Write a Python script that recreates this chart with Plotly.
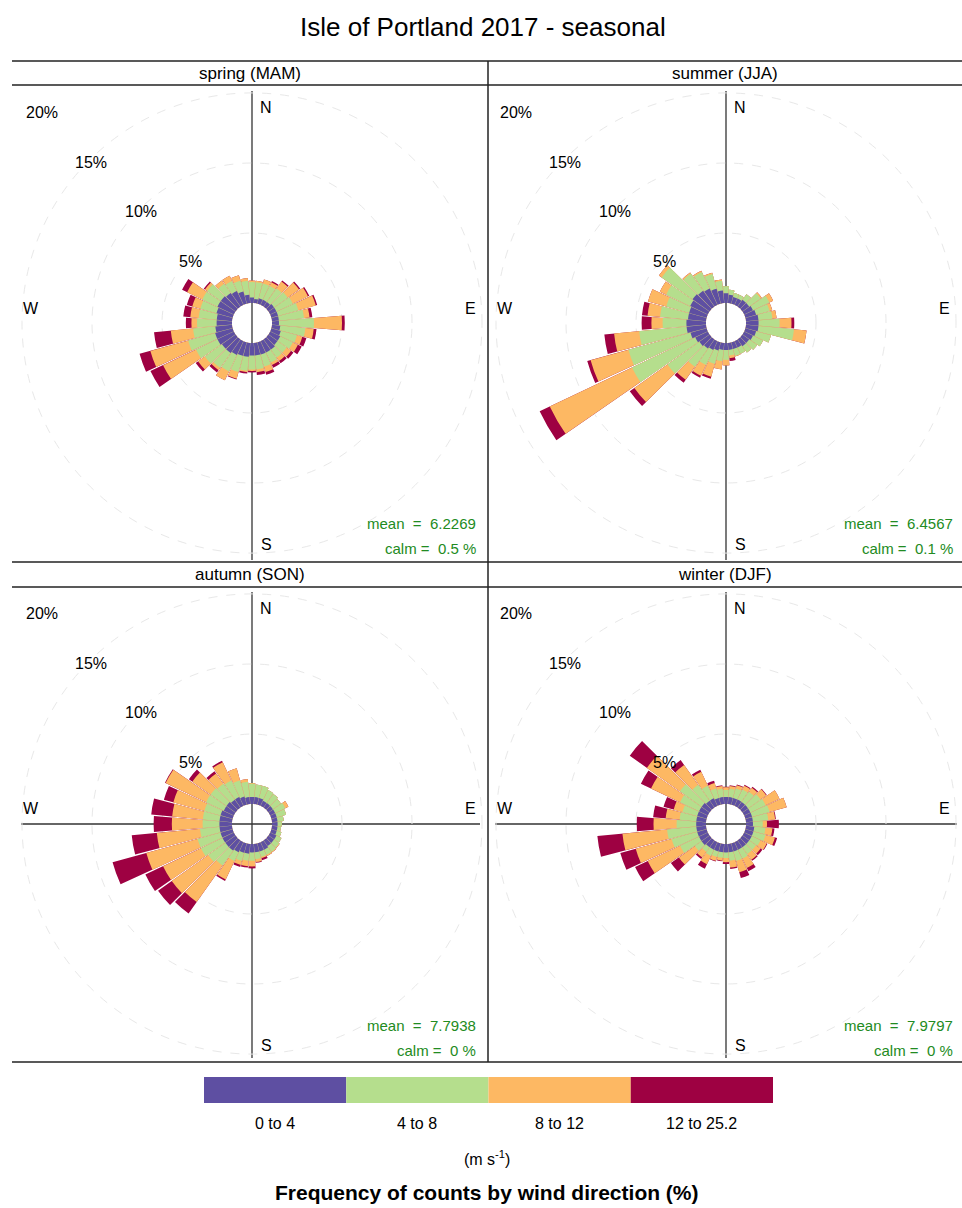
import plotly.graph_objects as go

# ---------------------------------------------------------------------------
# Wind rose data: 36 direction sectors (10 deg) and cumulative frequency (%)
# at the outer edge of each wind-speed band.
# ---------------------------------------------------------------------------
directions = list(range(10, 370, 10))
speed_bins = ["0 to 4", "4 to 8", "8 to 12", "12 to 25.2"]
bin_colors = ["#5E4FA2", "#B5DE8D", "#FDB863", "#9E0142"]

spring_upto4 = [0.3, 0.4, 0.4, 0.4, 0.5, 0.5, 0.5, 0.5, 0.5, 0.6, 0.7, 0.8,
                0.8, 0.9, 0.9, 0.9, 0.9, 0.9, 1.0, 1.0, 1.1, 1.2, 1.2, 1.3,
                1.3, 1.2, 1.1, 1.1, 1.2, 1.3, 1.3, 1.2, 1.1, 0.9, 0.6, 0.4]
spring_upto8 = [1.5, 1.5, 1.5, 1.6, 1.7, 1.8, 2.0, 2.3, 3.0, 2.4, 1.9, 1.8,
                1.6, 1.6, 1.7, 1.8, 1.9, 1.9, 2.0, 2.2, 2.4, 2.5, 2.7, 3.0,
                3.3, 2.8, 2.5, 2.4, 2.4, 2.5, 2.5, 2.0, 1.9, 1.7, 1.6, 1.5]
spring_upto12 = [1.6, 1.8, 1.8, 2.2, 2.7, 3.0, 3.3, 2.7, 5.0, 3.0, 2.3, 2.2,
                 2.0, 1.9, 1.9, 2.2, 2.1, 2.0, 2.1, 2.7, 3.1, 2.7, 3.3, 5.6,
                 6.1, 4.4, 2.9, 3.0, 3.0, 3.7, 2.7, 2.3, 2.3, 2.1, 1.8, 1.6]
spring_total = [1.6, 1.8, 1.9, 2.3, 2.8, 3.1, 3.4, 2.9, 5.2, 3.2, 2.6, 2.5,
                2.2, 2.1, 2.1, 2.4, 2.3, 2.1, 2.2, 2.75, 3.1, 2.9, 3.5, 6.6,
                6.9, 5.6, 3.3, 3.5, 3.4, 4.1, 2.8, 2.3, 2.3, 2.1, 1.8, 1.6]

summer_upto4 = [0.6, 0.5, 0.5, 0.6, 0.6, 0.7, 0.8, 0.9, 0.9, 0.9, 0.8, 0.7,
                0.6, 0.6, 0.5, 0.5, 0.5, 0.5, 0.5, 0.6, 0.7, 0.8, 0.9, 1.0,
                1.2, 1.4, 1.4, 1.3, 1.3, 1.4, 1.5, 1.4, 1.3, 1.1, 0.9, 0.7]
summer_upto8 = [0.95, 0.8, 0.8, 1.1, 1.6, 2.0, 1.8, 1.9, 2.4, 3.45, 1.9, 1.5,
                1.3, 1.15, 1.0, 1.0, 0.9, 1.2, 1.3, 1.6, 1.9, 2.4, 3.7, 6.0,
                5.8, 4.8, 3.1, 3.3, 3.0, 3.3, 4.2, 2.9, 2.6, 2.2, 1.6, 1.2]
summer_upto12 = [0.95, 0.8, 0.8, 1.1, 1.7, 2.3, 2.0, 2.2, 3.25, 4.35, 1.9, 1.5,
                 1.3, 1.15, 1.0, 1.05, 1.1, 1.6, 1.9, 2.55, 2.75, 3.55, 6.6, 12.5,
                 8.6, 6.6, 3.9, 4.2, 4.35, 3.8, 4.45, 3.0, 2.7, 2.3, 1.7, 1.2]
summer_total = [0.95, 0.8, 0.8, 1.1, 1.7, 2.3, 2.0, 2.2, 3.45, 4.35, 1.9, 1.5,
                1.3, 1.15, 1.0, 1.05, 1.3, 1.6, 1.9, 2.7, 2.9, 3.8, 7.0, 13.3,
                8.85, 7.3, 4.6, 4.6, 4.35, 3.8, 4.45, 3.0, 2.7, 2.3, 1.7, 1.2]

autumn_upto4 = [0.5, 0.5, 0.4, 0.4, 0.4, 0.4, 0.4, 0.4, 0.4, 0.4, 0.4, 0.5,
                0.5, 0.5, 0.6, 0.6, 0.6, 0.6, 0.7, 0.7, 0.8, 0.9, 0.9, 0.9,
                0.9, 0.9, 0.9, 0.9, 0.9, 0.8, 0.8, 0.7, 0.7, 0.6, 0.5, 0.5]
autumn_upto8 = [1.4, 1.4, 1.25, 1.2, 1.1, 1.2, 1.1, 0.85, 0.7, 0.65, 0.75, 0.9,
                0.95, 1.0, 1.0, 1.0, 1.1, 1.2, 1.2, 1.3, 1.5, 2.2, 2.4, 2.6,
                2.6, 2.3, 2.1, 2.1, 2.1, 2.2, 2.2, 2.1, 2.0, 1.8, 1.6, 1.45]
autumn_upto12 = [1.4, 1.4, 1.25, 1.2, 1.1, 1.45, 1.1, 0.85, 0.7, 0.65, 0.75, 0.9,
                 1.0, 1.05, 1.1, 1.1, 1.3, 1.6, 1.6, 1.6, 2.95, 5.4, 5.6, 5.6,
                 6.4, 5.4, 4.3, 4.3, 4.4, 5.4, 3.8, 3.0, 3.45, 2.7, 1.8, 1.5]
autumn_total = [1.4, 1.4, 1.25, 1.2, 1.1, 1.45, 1.1, 0.85, 0.7, 0.65, 0.75, 0.9,
                1.0, 1.05, 1.1, 1.25, 1.35, 1.75, 1.7, 1.75, 3.07, 6.4, 6.8, 7.0,
                8.9, 7.2, 5.6, 5.8, 5.1, 5.45, 4.1, 3.2, 3.57, 2.7, 1.8, 1.5]

winter_upto4 = [0.5, 0.5, 0.5, 0.5, 0.5, 0.5, 0.5, 0.5, 0.5, 0.6, 0.6, 0.6,
                0.6, 0.6, 0.6, 0.6, 0.6, 0.6, 0.6, 0.6, 0.6, 0.6, 0.7, 0.7,
                0.7, 0.7, 0.7, 0.7, 0.7, 0.7, 0.7, 0.6, 0.6, 0.5, 0.5, 0.5]
winter_upto8 = [1.1, 1.2, 1.3, 1.4, 1.6, 1.7, 1.8, 1.6, 1.2, 1.4, 1.5, 1.3,
                1.2, 1.2, 1.3, 1.3, 1.2, 1.0, 1.0, 1.0, 1.1, 1.0, 1.3, 2.2,
                2.6, 2.8, 2.1, 1.9, 1.8, 2.2, 2.6, 2.0, 1.6, 1.2, 1.1, 1.0]
winter_upto12 = [1.3, 1.45, 1.6, 1.75, 2.1, 2.8, 3.07, 2.1, 1.5, 1.9, 2.2, 1.8,
                 1.6, 1.7, 2.05, 2.14, 1.7, 1.3, 1.2, 1.3, 1.75, 1.5, 2.7, 4.76,
                 5.26, 6.0, 3.75, 2.9, 2.45, 4.5, 5.5, 3.74, 2.7, 1.6, 1.3, 1.2]
winter_total = [1.35, 1.5, 1.67, 1.84, 2.15, 2.8, 3.07, 2.15, 2.35, 2.05, 2.36, 1.85,
                1.76, 1.8, 2.3, 2.57, 1.8, 1.43, 1.25, 1.35, 2.1, 1.64, 3.4, 5.76,
                6.4, 7.8, 4.95, 3.8, 3.2, 5.3, 7.0, 4.17, 2.86, 1.78, 1.35, 1.24]

season_names = ["spring (MAM)", "summer (JJA)", "autumn (SON)", "winter (DJF)"]
season_bands = [
    [spring_upto4, spring_upto8, spring_upto12, spring_total],
    [summer_upto4, summer_upto8, summer_upto12, summer_total],
    [autumn_upto4, autumn_upto8, autumn_upto12, autumn_total],
    [winter_upto4, winter_upto8, winter_upto12, winter_total],
]
mean_speed = ["6.2269", "6.4567", "7.7938", "7.9797"]
calm_pct = ["0.5", "0.1", "0", "0"]
grid_levels = [5, 10, 15, 20]

# ---------------------------------------------------------------------------
# Page geometry (pixels)
# ---------------------------------------------------------------------------
W, H = 962, 1208
centers = [(252, 323), (726, 323), (252, 824), (726, 824)]
R_OUT = 236          # radius of each rose area in px
R_HOLE = 20          # inner offset circle in px
PX_PER_PCT = 14.0    # radial scale
FONT = "Liberation Sans, Arial, sans-serif"


def px(x):
    return x / W


def py(y):
    return 1 - y / H


fig = go.Figure()
layout_polars = {}
annotations = []
shapes = []


def text(x, y, s, size, color="black", xanchor="center"):
    annotations.append(dict(
        x=px(x), y=py(y), xref="paper", yref="paper", text=s, showarrow=False,
        xanchor=xanchor, yanchor="middle",
        font=dict(family=FONT, size=size, color=color)))


def line(x0, y0, x1, y1, color="#333333", width=1.3, layer="above"):
    shapes.append(dict(type="line", xref="paper", yref="paper",
                       x0=px(x0), y0=py(y0), x1=px(x1), y1=py(y1),
                       line=dict(color=color, width=width), layer=layer))


for i, (name, bands) in enumerate(zip(season_names, season_bands)):
    cx, cy = centers[i]
    pid = "polar" if i == 0 else f"polar{i + 1}"
    # widest band first, narrower ones drawn on top of it
    for k in range(3, -1, -1):
        fig.add_trace(go.Barpolar(
            r=bands[k], theta=directions, width=9.3,
            marker=dict(color=bin_colors[k], line=dict(width=0)),
            name=speed_bins[k], showlegend=False, subplot=pid,
            hovertemplate="%{theta}°: %{r:.2f}%<extra>" + speed_bins[k] + "</extra>"))
    layout_polars[pid] = dict(
        domain=dict(x=[px(cx - R_OUT), min(1.0, px(cx + R_OUT))],
                    y=[py(cy + R_OUT), py(cy - R_OUT)]),
        hole=R_HOLE / R_OUT,
        bgcolor="rgba(0,0,0,0)",
        barmode="overlay",
        radialaxis=dict(range=[0, (R_OUT - R_HOLE) / PX_PER_PCT],
                        tickvals=grid_levels[:3], showticklabels=False,
                        ticks="", showline=False, gridcolor="#e8e8e8",
                        griddash="dash", gridwidth=1),
        angularaxis=dict(rotation=90, direction="clockwise", showline=False,
                         showgrid=False, showticklabels=False, ticks=""),
    )

    # compass cross
    top = 91 if cy < 600 else 592
    bot = 560 if cy < 600 else 1058
    line(cx, top, cx, bot, layer="below")
    if cy > 600:
        left = 21 if cx < 488 else 495
        right = 480 if cx < 488 else 957
        line(left, cy, right, cy, layer="below")

    # compass labels
    text(cx + 14, cy - 216, "N", 16)
    text(cx + 14, cy + 221, "S", 16)
    text(cx - 221, cy - 15, "W", 16)
    text(cx + 218, cy - 15, "E", 16)

    # frequency grid labels along the NW diagonal
    for lvl in grid_levels:
        d = (R_HOLE + lvl * PX_PER_PCT) / 1.414
        text(cx - d + 2, cy - d + 2, f"{lvl}%", 16)

    # strip title
    strip_y = 73 if cy < 600 else 574.5
    text(250 if cx < 488 else 725, strip_y, name, 17)

    # summary statistics
    right_x = 478 if cx < 488 else 955
    base_y = 523 if cy < 600 else 1025
    text(right_x, base_y, f"mean  =  {mean_speed[i]}", 15, "#228B22", "right")
    text(right_x, base_y + 25, f"calm =  {calm_pct[i]} %", 15, "#228B22", "right")

# panel frame
for yy in (61, 85, 562, 587, 1062):
    line(12, yy, 962, yy, color="#222222", width=1.5)
line(488, 61, 488, 1062, color="#222222", width=1.5)

# speed colour key
key_x0, key_x1, key_y0, key_y1 = 204, 773, 1077, 1103
seg = (key_x1 - key_x0) / len(speed_bins)
for k, lab in enumerate(speed_bins):
    shapes.append(dict(type="rect", xref="paper", yref="paper",
                       x0=px(key_x0 + k * seg), x1=px(key_x0 + (k + 1) * seg),
                       y0=py(key_y1), y1=py(key_y0),
                       fillcolor=bin_colors[k], line=dict(width=0)))
    text(key_x0 + (k + 0.5) * seg, 1123, lab, 16)
text(487, 1158, "(m s<sup>-1</sup>)", 16)
text(487, 1192, "<b>Frequency of counts by wind direction (%)</b>", 21)

# main title
text(483, 27, "Isle of Portland 2017 - seasonal", 26)

fig.update_layout(
    width=W, height=H, autosize=False,
    margin=dict(l=0, r=0, t=0, b=0),
    paper_bgcolor="white", plot_bgcolor="white",
    annotations=annotations, shapes=shapes,
    **layout_polars,
)

fig.write_html("out.html")
